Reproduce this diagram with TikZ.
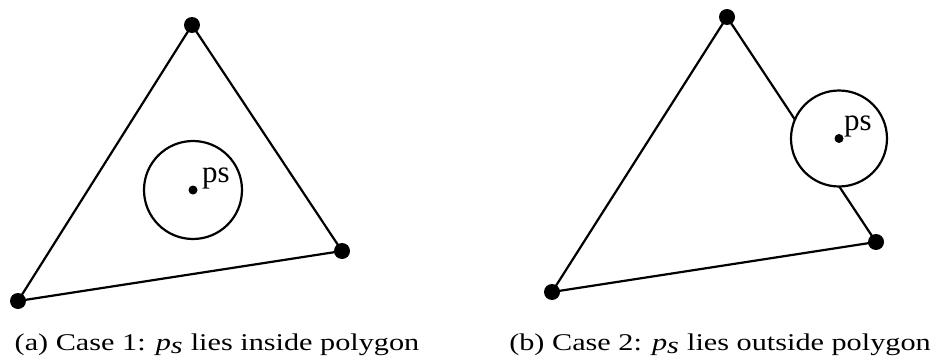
\documentclass[tikz,border=0pt]{standalone}
\usepackage{fontspec}
\setmainfont{Liberation Serif}
\begin{document}
\begin{tikzpicture}[x=1pt,y=-1pt,
  edge/.style={line width=2.2pt},
  vtx/.style={circle,fill=black,inner sep=0pt,minimum size=16pt},
  ctr/.style={circle,fill=black,inner sep=0pt,minimum size=9pt},
  ring/.style={line width=2.2pt,fill=white},
  lbl/.style={font=\fontsize{31}{31}\selectfont,anchor=base west,inner sep=0pt},
  captxt/.style={font=\fontsize{24}{24}\selectfont,anchor=base,inner sep=0pt}]
\useasboundingbox (0,0) rectangle (940,364);
% left
\coordinate (a1) at (192,25);
\coordinate (a2) at (342,251);
\coordinate (a3) at (18,301);
\draw[edge] (a1) -- (a2) -- (a3) -- cycle;
\draw[ring] (193,190) circle (49);
\node[vtx] (va1) at (a1) {};
\node[vtx] (va2) at (a2) {};
\node[vtx] (va3) at (a3) {};
\node[ctr] (ca) at (193,190) {};
\node[lbl] (la) at (202,182) {ps};
% right
\coordinate (b1) at (727,17);
\coordinate (b2) at (876,242);
\coordinate (b3) at (552,292);
\draw[edge] (b1) -- (b2) -- (b3) -- cycle;
\draw[ring] (839,138.5) circle (48);
\node[vtx] (vb1) at (b1) {};
\node[vtx] (vb2) at (b2) {};
\node[vtx] (vb3) at (b3) {};
\node[ctr] (cb) at (839,138.5) {};
\node[lbl] (lb) at (844,130) {ps};
% captions
\node[captxt] (capa) at (217,350) {\scalebox{1.26}[1]{(a) Case 1: \textit{p}$_{\textit{s}}$ lies inside polygon}};
\node[captxt] (capb) at (720,350) {\scalebox{1.26}[1]{(b) Case 2: \textit{p}$_{\textit{s}}$ lies outside polygon}};
\end{tikzpicture}
\end{document}
